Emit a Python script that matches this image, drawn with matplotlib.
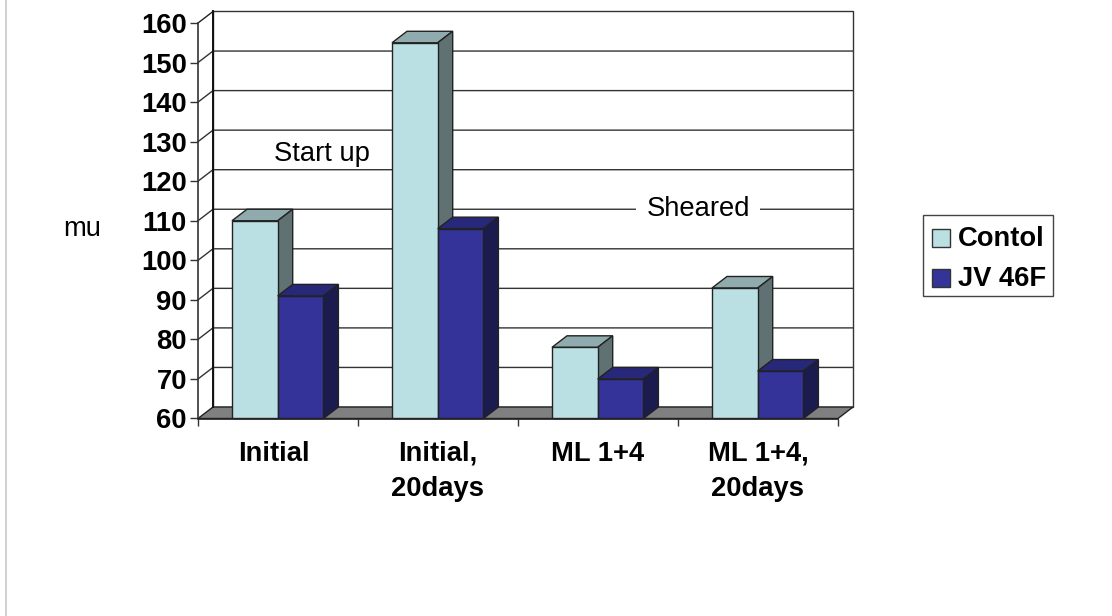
import matplotlib
matplotlib.use('Agg')
import matplotlib.pyplot as plt
from matplotlib.patches import Polygon, Rectangle

categories = ['Initial', 'Initial,\n20days', 'ML 1+4', 'ML 1+4,\n20days']
contol = [110, 155, 78, 93]
jv46f = [91, 108, 70, 72]
y_ticks = [60, 70, 80, 90, 100, 110, 120, 130, 140, 150, 160]

W, H = 1112, 616
FS = 19.7
plt.rcParams['font.family'] = ['Liberation Sans', 'DejaVu Sans']

fig = plt.figure(figsize=(W / 100, H / 100), dpi=100)
# front plane of the 3d box, in pixels
left, right, top, bottom = 198, 838, 23, 418.5
ax = fig.add_axes([left / W, 1 - bottom / H, (right - left) / W, (bottom - top) / H])
ax.set_xlim(0, 4)
ax.set_ylim(60, 160)
ax.patch.set_visible(False)

# depth of the box in data units
dx = 15 / 160
dy = 11.5 / ((bottom - top) / 100)
bar_w = 45.7 / 160
gap = 34 / 160
edge = '#222222'


def poly(pts, fc, z=3, lw=1.0, ec=edge):
    ax.add_patch(Polygon(pts, closed=True, facecolor=fc, edgecolor=ec, linewidth=lw, zorder=z, clip_on=False))


def bar3d(x, val, front, top_c, side, z):
    poly([(x, val), (x + bar_w, val), (x + bar_w + dx, val + dy), (x + dx, val + dy)], top_c, z)
    poly([(x + bar_w, 60), (x + bar_w + dx, 60 + dy), (x + bar_w + dx, val + dy), (x + bar_w, val)], side, z)
    poly([(x, 60), (x + bar_w, 60), (x + bar_w, val), (x, val)], front, z + 1)


# back wall, floor and side wall
poly([(dx, 60 + dy), (4 + dx, 60 + dy), (4 + dx, 160 + dy), (dx, 160 + dy)], 'white', 0, 1.0, '#333333')
poly([(0, 60), (4, 60), (4 + dx, 60 + dy), (dx, 60 + dy)], '#808080', 1, 1.0, '#222222')
for v in y_ticks[1:-1]:
    ax.plot([0, dx, 4 + dx], [v, v + dy, v + dy], color='#333333', lw=1.0, zorder=1, clip_on=False)
ax.plot([0, dx], [160, 160 + dy], color='#222222', lw=1.0, zorder=1, clip_on=False)
ax.plot([dx, dx], [60 + dy, 160 + dy], color='#111111', lw=1.4, zorder=2, clip_on=False)

# the dark bar sits in front of the side face of the light one
for i in range(len(categories)):
    x0 = i + gap
    bar3d(x0, contol[i], '#bbe0e3', '#8fabae', '#5f7173', 6 + 3 * i)
    bar3d(x0 + bar_w, jv46f[i], '#333399', '#28287a', '#1b1b50', 8 + 3 * i)

for s in ['top', 'right']:
    ax.spines[s].set_visible(False)
ax.spines['left'].set_color('#333333')
ax.spines['left'].set_linewidth(1.2)
ax.spines['bottom'].set_color('#222222')
ax.spines['bottom'].set_linewidth(1.2)
ax.spines['bottom'].set_zorder(30)

ax.set_yticks(y_ticks)
ax.set_xticks([0, 1, 2, 3, 4])
ax.set_xticklabels([])
ax.tick_params(axis='x', length=5, width=1, color='#333333')
ax.tick_params(axis='y', length=5.5, width=1, color='#333333', pad=2.5, labelsize=FS)
for t in ax.get_yticklabels():
    t.set_fontweight('bold')

# category labels hang below the axis, the first one sits a little left
for i, lab in enumerate(categories):
    off = -3 if i == 0 else 0
    ax.annotate(lab, xy=(i + 0.5, 60), xytext=(off, -16), textcoords='offset points', ha='center', va='top',
                fontsize=FS, fontweight='bold', linespacing=1.46, annotation_clip=False)

fig.text(274 / W, 1 - 154 / H, 'Start up', va='center', fontsize=FS, zorder=40)
fig.text(82 / W, 1 - 229 / H, 'mu', ha='center', va='center', fontsize=FS)
fig.text(698 / W, 1 - 209.5 / H, 'Sheared', ha='center', va='center', fontsize=FS,
         bbox=dict(facecolor='white', edgecolor='none', pad=7), zorder=40)

# legend box
fig.add_artist(Rectangle((922.5 / W, 1 - 296 / H), 130 / W, 81 / H, transform=fig.transFigure,
                         facecolor='white', edgecolor='#444444', linewidth=1.0))
for y, c, lab in [(238, '#bbe0e3', 'Contol'), (278, '#333399', 'JV 46F')]:
    fig.add_artist(Rectangle((932 / W, 1 - (y + 9) / H), 17.5 / W, 17.5 / H, transform=fig.transFigure,
                             facecolor=c, edgecolor='#333333', linewidth=1.0))
    fig.text(958 / W, 1 - (y + 1.5) / H, lab, va='center', fontsize=FS, fontweight='bold')

# slide edge on the left
fig.add_artist(plt.Line2D([5.5 / W, 5.5 / W], [0, 1], color='#c8c8c8', lw=1.2))

fig.savefig('out.png', dpi=100)
